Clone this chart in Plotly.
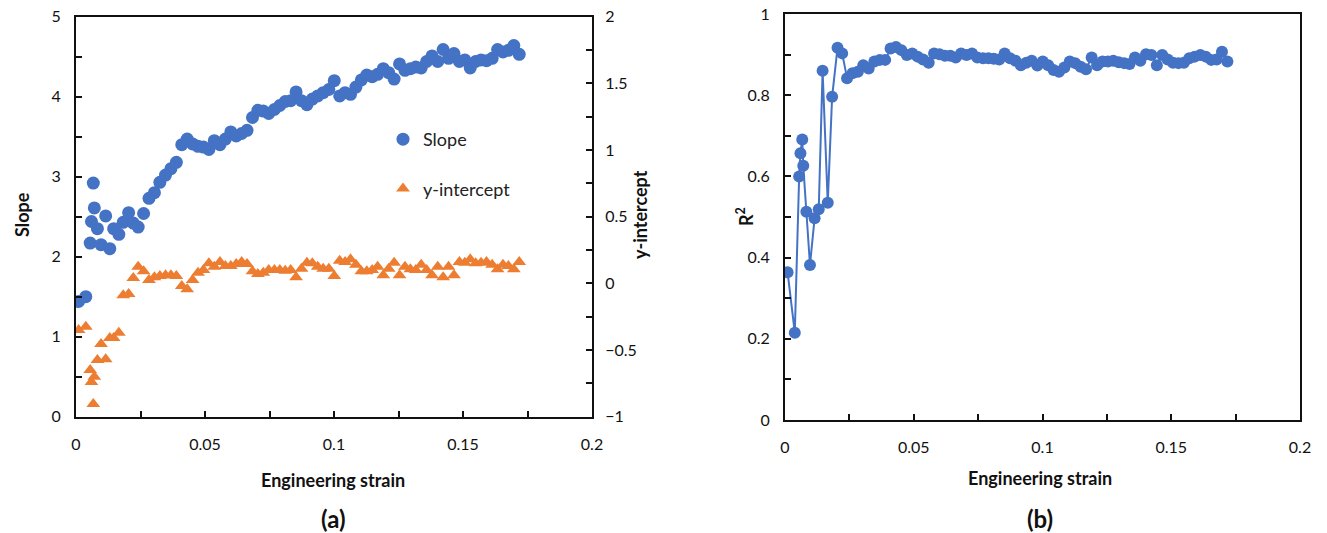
import plotly.graph_objects as go

# ---------------- data ----------------
strain = [0.0010, 0.0038, 0.0055, 0.0060, 0.0067, 0.0071, 0.0083, 0.0097, 0.0115, 0.0131,
          0.0146, 0.0166, 0.0183, 0.0204, 0.0222,
          0.0241, 0.0262, 0.0283, 0.0304, 0.0325, 0.0347, 0.0368, 0.0389, 0.0410, 0.0431,
          0.0452, 0.0473, 0.0494, 0.0515, 0.0536, 0.0558, 0.0579, 0.0600, 0.0621, 0.0642,
          0.0663, 0.0684, 0.0705, 0.0726, 0.0747, 0.0769, 0.0790, 0.0811, 0.0832, 0.0853,
          0.0874, 0.0895, 0.0916, 0.0937, 0.0958, 0.0980, 0.1001, 0.1022, 0.1043, 0.1064,
          0.1085, 0.1106, 0.1127, 0.1148, 0.1169, 0.1191, 0.1212, 0.1233, 0.1254, 0.1275,
          0.1296, 0.1317, 0.1338, 0.1359, 0.1380, 0.1402, 0.1423, 0.1444, 0.1465, 0.1486,
          0.1507, 0.1528, 0.1549, 0.1570, 0.1591, 0.1613, 0.1634, 0.1655, 0.1676, 0.1697,
          0.1718]

slope = [1.44, 1.50, 2.17, 2.44, 2.92, 2.61, 2.35, 2.15, 2.51, 2.10,
         2.35, 2.28, 2.43, 2.55, 2.42,
         2.37, 2.54, 2.73, 2.80, 2.93, 3.02, 3.10, 3.18, 3.40, 3.47,
         3.41, 3.38, 3.37, 3.34, 3.45, 3.40, 3.47, 3.56, 3.51, 3.54,
         3.58, 3.74, 3.83, 3.82, 3.79, 3.84, 3.89, 3.94, 3.95, 4.06,
         3.95, 3.90, 3.97, 4.01, 4.05, 4.09, 4.20, 4.01, 4.05, 4.03,
         4.12, 4.21, 4.27, 4.25, 4.28, 4.35, 4.30, 4.22, 4.41, 4.33,
         4.35, 4.37, 4.36, 4.44, 4.51, 4.44, 4.59, 4.48, 4.54, 4.44,
         4.46, 4.36, 4.44, 4.46, 4.45, 4.48, 4.59, 4.56, 4.58, 4.64,
         4.53]

y_intercept = [-0.35, -0.325, -0.65, -0.74, -0.905, -0.70, -0.575, -0.455, -0.57, -0.41,
               -0.41, -0.37, -0.09, -0.08, 0.04,
               0.125, 0.09, 0.025, 0.045, 0.055, 0.06, 0.06, 0.055, -0.02, -0.045,
               0.025, 0.08, 0.10, 0.15, 0.125, 0.16, 0.13, 0.13, 0.145, 0.16,
               0.145, 0.09, 0.07, 0.08, 0.10, 0.10, 0.10, 0.095, 0.10, 0.045,
               0.11, 0.155, 0.15, 0.125, 0.11, 0.11, 0.055, 0.17, 0.16, 0.18,
               0.14, 0.09, 0.09, 0.10, 0.125, 0.06, 0.11, 0.155, 0.06, 0.125,
               0.105, 0.10, 0.14, 0.10, 0.06, 0.125, 0.045, 0.125, 0.06, 0.16,
               0.155, 0.18, 0.15, 0.155, 0.16, 0.14, 0.105, 0.14, 0.13, 0.105,
               0.16]

r2 = [0.364, 0.215, 0.600, 0.657, 0.691, 0.626, 0.513, 0.382, 0.497, 0.519,
      0.860, 0.535, 0.796, 0.917, 0.903,
      0.842, 0.854, 0.858, 0.874, 0.866, 0.883, 0.887, 0.887, 0.915, 0.919,
      0.911, 0.899, 0.903, 0.895, 0.888, 0.880, 0.903, 0.901, 0.897, 0.897,
      0.893, 0.903, 0.899, 0.903, 0.893, 0.891, 0.891, 0.890, 0.888, 0.903,
      0.891, 0.885, 0.874, 0.880, 0.885, 0.873, 0.883, 0.874, 0.862, 0.858,
      0.868, 0.883, 0.879, 0.870, 0.864, 0.893, 0.874, 0.883, 0.883, 0.885,
      0.881, 0.879, 0.877, 0.893, 0.885, 0.901, 0.899, 0.874, 0.899, 0.888,
      0.880, 0.879, 0.880, 0.891, 0.895, 0.899, 0.895, 0.887, 0.888, 0.907,
      0.883]

BLUE = "#4472C4"
ORANGE = "#ED7D31"
FONT = "Lato, Open Sans, sans-serif"
W, H = 1327, 533

def px(x):
    return x / W

def py(y):
    return (H - y) / H

fig = go.Figure()

fig.add_trace(go.Scatter(x=strain, y=slope, mode="markers", name="Slope",
                         marker=dict(symbol="circle", size=13, color=BLUE),
                         xaxis="x", yaxis="y", legendgroup="a"))
fig.add_trace(go.Scatter(x=strain, y=y_intercept, mode="markers", name="y-intercept",
                         marker=dict(symbol="triangle-up", size=12, color=ORANGE),
                         xaxis="x", yaxis="y2", legendgroup="b"))
fig.add_trace(go.Scatter(x=strain, y=r2, mode="lines+markers", name="R2",
                         marker=dict(symbol="circle", size=12, color=BLUE),
                         line=dict(color=BLUE, width=2),
                         xaxis="x2", yaxis="y3", showlegend=False))

tickfont = dict(family=FONT, size=16, color="#111")
axis_common = dict(showgrid=False, zeroline=False, showline=True, linecolor="#111",
                   linewidth=2, ticks="inside", ticklen=6, tickcolor="#111",
                   tickwidth=1.5, tickfont=tickfont, automargin=False)

fig.update_layout(
    width=W, height=H,
    margin=dict(l=0, r=0, t=0, b=0, pad=0, autoexpand=False),
    paper_bgcolor="white", plot_bgcolor="white",
    font=dict(family=FONT, color="#111"),
    xaxis=dict(domain=[px(76), px(592)], range=[0, 0.2], dtick=0.05, anchor="y",
               mirror=True, ticklabelstandoff=12,
               minor=dict(dtick=0.025, ticks="inside", ticklen=6, tickcolor="#111"),
               **axis_common),
    yaxis=dict(domain=[py(416.7), py(16.7)], range=[0, 5], dtick=1, anchor="x",
               ticklabelstandoff=10,
               minor=dict(dtick=0.5, ticks="inside", ticklen=6, tickcolor="#111"),
               **axis_common),
    yaxis2=dict(overlaying="y", side="right", range=[-1, 2], dtick=0.5, anchor="x",
                ticklabelstandoff=8,
                minor=dict(dtick=0.25, ticks="inside", ticklen=6, tickcolor="#111"),
                **axis_common),
    xaxis2=dict(domain=[px(785), px(1300)], range=[0, 0.2], dtick=0.05, anchor="y3",
                mirror=True, ticklabelstandoff=12,
                minor=dict(dtick=0.025, ticks="inside", ticklen=6, tickcolor="#111"),
                **axis_common),
    yaxis3=dict(domain=[py(420), py(14)], range=[0, 1], dtick=0.2, anchor="x2",
                mirror=True, ticklabelstandoff=10,
                minor=dict(dtick=0.1, ticks="inside", ticklen=6, tickcolor="#111"),
                **axis_common),
    legend=dict(x=px(383), y=py(121), xanchor="left", yanchor="top",
                bgcolor="rgba(0,0,0,0)", borderwidth=0,
                font=dict(family=FONT, size=18, color="#222"),
                traceorder="grouped", tracegroupgap=23),
    showlegend=True,
)

ann_font = dict(family=FONT, size=18, color="#111")
annotations = [
    dict(text="<b>Slope</b>", x=px(22), y=py(215), textangle=-90),
    dict(text="<b>y-intercept</b>", x=px(640), y=py(215), textangle=-90),
    dict(text="<b>R<sup>2</sup></b>", x=px(745), y=py(217), textangle=-90),
    dict(text="<b>Engineering strain</b>", x=px(333), y=py(480)),
    dict(text="<b>Engineering strain</b>", x=px(1040), y=py(478)),
]
for a in annotations:
    fig.add_annotation(xref="paper", yref="paper", showarrow=False,
                       xanchor="center", yanchor="middle", font=ann_font, **a)
for t, xx in [("<b>(a)</b>", 333), ("<b>(b)</b>", 1040)]:
    fig.add_annotation(text=t, x=px(xx), y=py(518), xref="paper", yref="paper",
                       showarrow=False, xanchor="center", yanchor="middle",
                       font=dict(family=FONT, size=24, color="#111"))

fig.write_html("out.html")
